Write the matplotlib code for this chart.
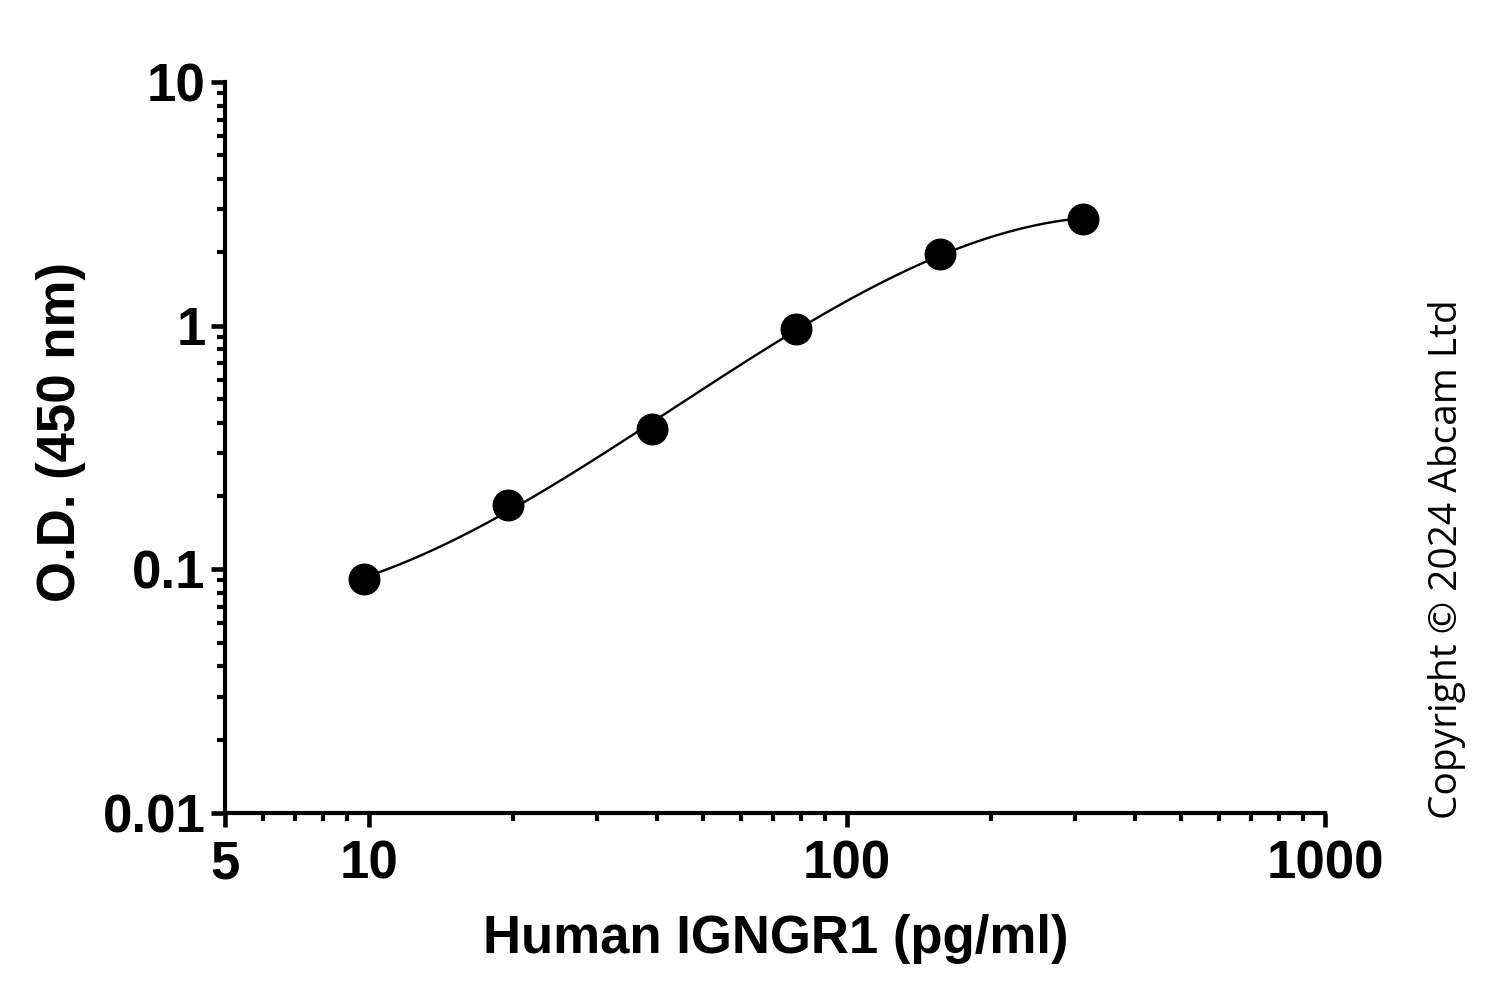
import numpy as np
import matplotlib
matplotlib.use('Agg')
import matplotlib.pyplot as plt
from matplotlib.ticker import LogLocator, FixedLocator, NullFormatter

# 标准曲线数据
conc = [9.77, 19.5, 39.1, 78.1, 156.3, 312.5]   # pg/ml
od = [0.091, 0.183, 0.375, 0.97, 1.97, 2.74]    # O.D. 450 nm

x_ticks = [5, 10, 100, 1000]
x_tick_labels = ['5', '10', '100', '1000']
y_ticks = [0.01, 0.1, 1, 10]
y_tick_labels = ['0.01', '0.1', '1', '10']

plt.rcParams['font.family'] = ['Liberation Sans', 'DejaVu Sans']

fig = plt.figure(figsize=(15, 9.9), dpi=100)
ax = fig.add_axes([0.15, 0.1788, 0.7333, 0.7384])

# 拟合曲线 (对数空间三次多项式)
lx = np.log10(conc)
coef = np.polyfit(lx, np.log10(od), 3)
xs = np.linspace(lx[0], lx[-1], 300)
ax.plot(10 ** xs, 10 ** np.polyval(coef, xs), color='black', lw=1.7, zorder=2)

ax.plot(conc, od, 'o', color='black', markersize=22, zorder=3)

ax.set_xscale('log')
ax.set_yscale('log')
ax.set_xlim(5, 1000)
ax.set_ylim(0.01, 10)

ax.xaxis.set_major_locator(FixedLocator(x_ticks))
ax.set_xticklabels(x_tick_labels)
ax.yaxis.set_major_locator(FixedLocator(y_ticks))
ax.set_yticklabels(y_tick_labels)
ax.xaxis.set_minor_locator(LogLocator(base=10, subs=np.arange(2, 10), numticks=20))
ax.yaxis.set_minor_locator(LogLocator(base=10, subs=np.arange(2, 10), numticks=20))
ax.xaxis.set_minor_formatter(NullFormatter())
ax.yaxis.set_minor_formatter(NullFormatter())

for s in ['top', 'right']:
    ax.spines[s].set_visible(False)
for s in ['left', 'bottom']:
    ax.spines[s].set_linewidth(3)

ax.tick_params(which='major', length=10, width=3.3, labelsize=38, direction='out')
ax.tick_params(which='minor', length=5.5, width=3, direction='out')
ax.tick_params(axis='x', which='major', pad=9)
ax.tick_params(axis='y', which='major', pad=4)
for lab in ax.get_xticklabels() + ax.get_yticklabels():
    lab.set_fontweight('bold')

ax.set_xlabel('Human IGNGR1 (pg/ml)', fontsize=38, fontweight='bold')
ax.set_ylabel('O.D. (450 nm)', fontsize=38, fontweight='bold')
ax.xaxis.set_label_coords(0.501, -0.138)
ax.yaxis.set_label_coords(-0.126, 0.521)

fig.text(0.965, 0.435, 'Copyright © 2024 Abcam Ltd', rotation=90, fontsize=28,
         family=['Open Sans', 'DejaVu Sans'], color='black', ha='center', va='center')

plt.savefig('out.png', dpi=100)
plt.close('all')
